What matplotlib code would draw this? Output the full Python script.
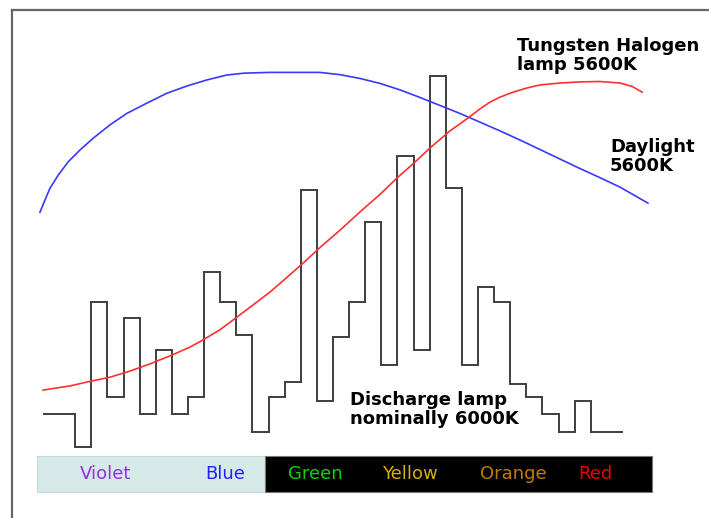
import numpy as np
import matplotlib
matplotlib.use("Agg")
import matplotlib.pyplot as plt
from matplotlib.patches import Rectangle

# ---- data ----
# discharge lamp spectrum: 10 nm bins from 380 to 740 nm
bin_edges = np.arange(380, 741, 10)
discharge = [12, 12, 3.5, 41.5, 16.5, 37.5, 12, 29, 12, 16.5, 49.5, 41.5,
             33, 7.5, 16.5, 20.5, 71, 15.5, 32.5, 41.5, 62.5, 25, 80, 29,
             101, 71.5, 25, 45.5, 41.5, 20, 16.5, 12, 7.5, 15.5, 7.5, 7.5]

daylight_wl = [378.1, 381.2, 384.3, 389.5, 395.7, 403.0, 411.2, 421.6, 432.0,
               444.4, 456.8, 469.2, 481.6, 494.0, 504.9, 520.8, 539.5, 551.9,
               564.4, 576.8, 589.2, 601.6, 614.0, 626.4, 638.8, 651.3, 663.7,
               676.1, 688.5, 700.9, 713.3, 725.7, 738.2, 755.5]
daylight = [65.2, 68.4, 71.5, 75.0, 78.5, 81.6, 84.7, 88.2, 91.2, 93.9, 96.5,
            98.4, 100.0, 101.3, 101.8, 102.0, 102.0, 102.0, 101.4, 100.4, 99.1,
            97.4, 95.4, 93.3, 91.2, 88.9, 86.6, 84.2, 81.7, 79.2, 76.7, 74.3,
            71.8, 67.6]

tungsten_wl = [380.0, 396.8, 409.2, 421.6, 434.0, 446.4, 458.8, 471.2, 479.3,
               489.9, 500.4, 511.6, 520.9, 530.2, 541.4, 551.9, 564.4, 576.8,
               589.2, 599.7, 610.9, 620.2, 632.6, 643.8, 651.3, 657.5, 663.7,
               671.8, 680.4, 688.5, 700.9, 713.3, 725.7, 738.2, 745.7, 751.9]
tungsten = [18.4, 19.5, 20.7, 21.8, 23.4, 25.3, 27.4, 29.7, 31.6, 34.3, 37.6,
            41.2, 44.2, 47.6, 51.8, 55.9, 60.5, 65.3, 69.9, 74.2, 78.4, 82.1,
            86.6, 90.0, 92.4, 94.2, 95.5, 96.8, 97.9, 98.7, 99.2, 99.5, 99.6,
            99.2, 98.3, 96.8]

bands = ["Violet", "Blue", "Green", "Yellow", "Orange", "Red"]
band_wl = [419, 493, 549, 608, 672, 723]
band_colors = ["#9030e8", "#2020ff", "#10d010", "#d8b000", "#c07c00", "#e80000"]

# ---- figure ----
fig = plt.figure(figsize=(7.09, 5.18), dpi=100)
ax = fig.add_axes([0, 0, 1, 1])
ax.set_xlim(353.3, 793.4)
ax.set_ylim(-15.26, 121.05)
ax.axis("off")

# outer frame (top and left lines)
fig.add_artist(plt.Line2D([12 / 709, 12 / 709], [0, 1 - 10 / 518],
                          transform=fig.transFigure, color="#666666", lw=1.6))
fig.add_artist(plt.Line2D([12 / 709, 1], [1 - 10 / 518, 1 - 10 / 518],
                          transform=fig.transFigure, color="#666666", lw=1.6))

# colour band bar
ax.add_patch(Rectangle((376.3, -8.4), 517.8 - 376.3, 9.45, facecolor="#d6e9e9",
                       edgecolor="#c8d8d8", lw=0.8, zorder=1))
ax.add_patch(Rectangle((517.8, -8.4), 758.0 - 517.8, 9.45, facecolor="#000000",
                       edgecolor="#777777", lw=0.8, zorder=1))
for name, x, c in zip(bands, band_wl, band_colors):
    ax.text(x, -3.7, name, color=c, fontsize=13, ha="center", va="center",
            family="DejaVu Sans", zorder=3)

# curves
ax.plot(daylight_wl, daylight, color="#3838ff", lw=1.2, zorder=4,
        solid_joinstyle="round")
ax.plot(tungsten_wl, tungsten, color="#ff3030", lw=1.2, zorder=4,
        solid_joinstyle="round")
ax.stairs(discharge, bin_edges, baseline=None, color="#3a4040", lw=1.4,
          zorder=3)

# labels
lab = dict(fontsize=13, fontweight="bold", color="black", ha="left",
           va="top", linespacing=1.05, family="DejaVu Sans")
ax.text(674.2, 111.3, "Tungsten Halogen\nlamp 5600K", **lab)
ax.text(732.0, 84.7, "Daylight\n5600K", **lab)
ax.text(570.6, 18.2, "Discharge lamp\nnominally 6000K", **lab)

fig.savefig("out.png", dpi=100)
